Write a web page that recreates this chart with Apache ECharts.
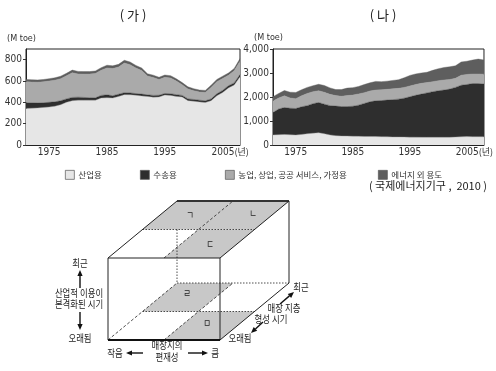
<!DOCTYPE html>
<html><head><meta charset="utf-8">
<script src="https://cdn.jsdelivr.net/npm/echarts@6/dist/echarts.min.js"></script>
<style>html,body{margin:0;padding:0;background:#fff}#c{width:496px;height:371px}</style>
</head><body><div id="c"></div>
<script>
var years = [];
for (var y = 1971; y <= 2008; y++) years.push(String(y));
var seriesNames = ['산업용', '수송용', '농업, 상업, 공공 서비스, 가정용', '에너지 외 용도'];
var seriesColors = ['#e6e6e6', '#2e2e2e', '#aaaaaa', '#5e5e5e'];
var yTicksGa = [0, 200, 400, 600, 800];
var yTicksNa = [0, 1000, 2000, 3000, 4000];

// (가)
var gaIndustry = [343,345,348,352,356,364,378,400,415,420,420,420,420,440,443,440,455,472,470,466,460,455,448,450,468,465,455,450,416,410,404,398,415,462,492,535,562,640];
var gaTransport = [53,49,45,44,44,41,37,32,31,28,26,23,22,25,27,22,21,18,18,16,17,15,17,16,15,15,17,15,16,17,16,16,17,18,20,20,20,20];
var gaOther = [196,196,196,196,200,203,207,217,232,218,219,222,229,236,253,255,255,278,265,240,222,176,168,148,151,148,127,100,93,82,76,79,108,114,112,98,114,126];
var gaNonEnergy = [22,22,21,22,22,22,23,23,24,24,23,23,23,24,25,25,25,26,25,24,23,22,22,21,22,22,21,20,20,19,19,19,20,21,21,22,22,24];

// (나)
var naIndustry = [420,430,440,425,415,440,470,490,510,470,420,390,375,370,365,360,355,355,350,345,340,335,335,330,325,325,320,320,320,320,320,320,330,340,350,345,345,340];
var naTransport = [930,1070,1120,1105,1105,1150,1170,1230,1260,1230,1220,1230,1225,1230,1250,1300,1375,1445,1490,1505,1530,1555,1575,1620,1685,1745,1800,1850,1900,1940,1970,2010,2070,2150,2170,2215,2215,2200];
var naOther = [480,460,490,430,410,460,510,500,490,500,470,440,430,460,465,470,450,450,450,450,450,450,450,450,450,450,450,430,420,420,420,400,380,420,420,400,400,410];
var naNonEnergy = [180,190,220,240,260,250,250,250,270,280,270,250,280,310,310,310,340,340,360,340,340,350,360,400,440,440,430,430,470,500,520,530,520,550,550,580,620,590];

var FONT = '"Noto Sans CJK KR", "Noto Sans", sans-serif';
var NUMFONT = '"Liberation Sans Narrow", "DejaVu Sans Condensed", "Liberation Sans", sans-serif';

function xAxis(gi) {
  return {
    type: 'category', gridIndex: gi, data: years, boundaryGap: false,
    axisLine: {show: true, lineStyle: {color: '#222', width: 1}},
    axisTick: {show: true, inside: true, length: 4, lineStyle: {color: '#333'},
      interval: function (i, v) { return (+v) % 5 === 0; }},
    axisLabel: {interval: function (i, v) { return (+v) % 10 === 5; },
      fontFamily: NUMFONT, fontSize: 10, color: '#333', margin: 2,
      formatter: function (v) { return v === '2005' ? '{p| }{a|2005}{b|(년)}' : v; },
      rich: {p: {width: 15, fontSize: 10}, a: {fontFamily: NUMFONT, fontSize: 10, color: '#333'},
             b: {fontFamily: FONT, fontSize: 9, color: '#333'}}},
    splitLine: {show: false}
  };
}
function yAxis(gi, ticks, fmt) {
  return {
    type: 'value', gridIndex: gi, min: ticks[0], max: gi === 0 ? 900 : ticks[ticks.length - 1],
    interval: ticks[1] - ticks[0],
    axisLine: {show: true, lineStyle: {color: '#222'}},
    axisTick: {show: true, length: 3, lineStyle: {color: '#333'}},
    axisLabel: {fontFamily: NUMFONT, fontSize: 10, color: '#333', margin: 4,
      showMaxLabel: gi !== 0, formatter: fmt},
    splitLine: {show: false}
  };
}
function area(name, idx, data, gi, stack) {
  return {
    type: 'line', name: name, xAxisIndex: gi, yAxisIndex: gi, stack: stack, data: data,
    symbol: 'none', smooth: false, color: seriesColors[idx],
    itemStyle: {color: seriesColors[idx]},
    lineStyle: {width: 0.4, color: idx === 0 ? '#999' : seriesColors[idx]},
    areaStyle: {color: seriesColors[idx], opacity: 1},
    emphasis: {disabled: true}, silent: true, animation: false
  };
}
function fmtComma(v) { return String(v).replace(/\B(?=(\d{3})+(?!\d))/g, ','); }

function arrow(x1, y1, x2, y2) {
  var dx = x2 - x1, dy = y2 - y1, L = Math.sqrt(dx * dx + dy * dy);
  var ux = dx / L, uy = dy / L, hl = 6, hw = 2.6;
  var bx = x2 - ux * hl, by = y2 - uy * hl;
  return [
    {type: 'line', z: 20, shape: {x1: x1, y1: y1, x2: bx, y2: by}, style: {stroke: '#111', lineWidth: 1.4}},
    {type: 'polygon', z: 20, shape: {points: [[x2, y2], [bx - uy * hw, by + ux * hw], [bx + uy * hw, by - ux * hw]]}, style: {fill: '#111'}}
  ];
}
function txt(s, x, y, size, align, sx) {
  return {type: 'text', z: 30, x: x, y: y, scaleX: sx || 1, style: {text: s, fontFamily: FONT, fontSize: size || 10,
    fill: '#222', align: align || 'center', verticalAlign: 'middle'}};
}
function ctxt(s, x, y) { return txt(s, x, y, 10, 'center', 0.84); }
function ln(a, b, dash, w, color) {
  return {type: 'line', z: dash ? 12 : 15, shape: {x1: a[0], y1: a[1], x2: b[0], y2: b[1]},
    style: {stroke: color || '#222', lineWidth: w || 1, lineDash: dash || null}};
}
function poly(pts) {
  return {type: 'polygon', z: 10, shape: {points: pts}, style: {fill: '#c8c8c8'}};
}

// cube geometry
var FLT = [108, 258], FRT = [220, 258], BRT = [289, 201], BLT = [177, 201];
var FLB = [108, 340], FRB = [220, 340], BRB = [289, 283], BLB = [177, 283];
function mid(a, b) { return [(a[0] + b[0]) / 2, (a[1] + b[1]) / 2]; }
var MLT = mid(FLT, BLT), MRT = mid(FRT, BRT), FMT = mid(FLT, FRT), BMT = mid(BLT, BRT), CT = mid(MLT, MRT);
var MLB = mid(FLB, BLB), MRB = mid(FRB, BRB), FMB = mid(FLB, FRB), BMB = mid(BLB, BRB), CB = mid(MLB, MRB);

var g = [];
g.push(poly([BLT, BMT, CT, MLT]), poly([BMT, BRT, MRT, CT]), poly([CT, MRT, FRT, FMT]));
g.push(poly([BLB, BMB, CB, MLB]), poly([CB, MRB, FRB, FMB]));
var dot = [1.5, 1.5], dsh = [3, 2];
g.push(ln(MLT, MRT, dot, 0.8), ln(FMT, BMT, dsh, 0.8), ln([177, MLT[1]], BLB, dot, 0.8));
g.push(ln(BLB, BRB, dot, 0.8), ln(FLB, BLB, dsh, 0.8), ln(MLB, MRB, dot, 0.8), ln(FMB, BMB, dsh, 0.8));
g.push(ln(FLT, FRT), ln(FRT, FRB), ln(FLT, FLB), ln(FLB, FRB, null, 2, '#111'));
g.push(ln(FLT, BLT), ln(BLT, BRT, null, 2, '#333'), ln(BRT, FRT), ln(BRT, BRB), ln(FRB, BRB));
g.push(ctxt('ㄱ', 190, 215), ctxt('ㄴ', 253, 213), ctxt('ㄷ', 210, 244), ctxt('ㄹ', 187, 293), ctxt('ㅁ', 207, 323));
g.push(ctxt('최근', 80, 263), ctxt('산업적 이용이', 79, 293), ctxt('본격화된 시기', 79, 304), ctxt('오래됨', 80, 338));
g = g.concat(arrow(80, 288, 80, 270), arrow(80, 312, 80, 330));
g.push(ctxt('매장지의', 167, 345), ctxt('편재성', 167, 357), ctxt('작음', 115, 353), ctxt('큼', 215, 353));
g = g.concat(arrow(143, 353, 126, 353), arrow(188, 353, 208, 353));
g.push(ctxt('최근', 301, 287), ctxt('매장 지층', 284, 308), ctxt('형성 시기', 271, 319), ctxt('오래됨', 240, 338));
g = g.concat(arrow(280, 304, 294, 292), arrow(263, 322, 251, 333));
// titles and notes
g.push(txt('( 가 )', 133, 15, 13), txt('( 나 )', 383, 15, 13));
g.push({type: 'text', z: 30, x: 7, y: 39, style: {text: '(M toe)', fontFamily: NUMFONT, fontSize: 9, fill: '#333', verticalAlign: 'middle'}});
g.push({type: 'text', z: 30, x: 254, y: 38, style: {text: '(M toe)', fontFamily: NUMFONT, fontSize: 9, fill: '#333', verticalAlign: 'middle'}});
g.push(txt('( 국제에너지기구 ,  2010 )', 487, 186, 11, 'right'));

var legendPos = [65, 140, 225, 378];
var legends = seriesNames.map(function (n, i) {
  return {data: [n], left: legendPos[i], top: 170, itemWidth: 9, itemHeight: 9, itemGap: 4, padding: 0,
    icon: 'rect', selectedMode: false,
    itemStyle: {borderColor: '#555', borderWidth: 0.7},
    textStyle: {fontFamily: FONT, fontSize: 8.5, color: '#333', padding: [0, 0, 0, -1]}};
});

var chart = echarts.init(document.getElementById('c'), null, {renderer: 'canvas'});
chart.setOption({
  animation: false,
  backgroundColor: '#fff',
  legend: legends,
  grid: [
    {left: 26, top: 49, width: 214, height: 96, show: true, borderColor: '#222', borderWidth: 1, containLabel: false},
    {left: 273, top: 49, width: 214, height: 96, show: true, borderColor: '#222', borderWidth: 1, containLabel: false}
  ],
  xAxis: [xAxis(0), xAxis(1)],
  yAxis: [yAxis(0, yTicksGa), yAxis(1, yTicksNa, fmtComma)],
  series: [
    area(seriesNames[0], 0, gaIndustry, 0, 'ga'),
    area(seriesNames[1], 1, gaTransport, 0, 'ga'),
    area(seriesNames[2], 2, gaOther, 0, 'ga'),
    area(seriesNames[3], 3, gaNonEnergy, 0, 'ga'),
    area(seriesNames[0], 0, naIndustry, 1, 'na'),
    area(seriesNames[1], 1, naTransport, 1, 'na'),
    area(seriesNames[2], 2, naOther, 1, 'na'),
    area(seriesNames[3], 3, naNonEnergy, 1, 'na')
  ],
  graphic: g
});
</script></body></html>
